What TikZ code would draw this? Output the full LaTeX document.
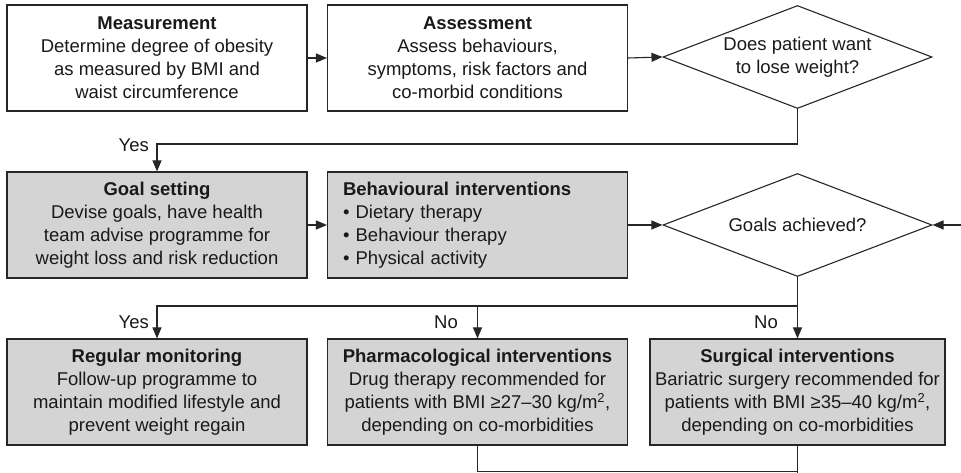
\documentclass[tikz,border=0pt]{standalone}
\usepackage{fontspec}
\setmainfont{Liberation Sans}
\usetikzlibrary{shapes.geometric,arrows.meta}

\begin{document}
\begin{tikzpicture}[x=1pt,y=1pt,
  every node/.style={font=\fontsize{18.5}{23}\selectfont, text=black!90},
  stepbox/.style={draw=black!85, line width=1.1pt, minimum width=300pt, minimum height=106pt, inner sep=0pt, align=center},
  graybox/.style={stepbox, fill=black!17},
  choice/.style={draw=black!85, line width=1.1pt, diamond, aspect=2.64, minimum width=269pt, minimum height=103pt, inner sep=0pt, align=center},
  link/.style={draw=black!85, line width=1.1pt},
  arrow/.style={link, -{Triangle[length=11pt,width=9pt]}},
  lbl/.style={anchor=east, inner sep=1pt}]
  \useasboundingbox (0,0) rectangle (961,473);

  % top row
  \node[stepbox] (meas) at (157,415) {\textbf{Measurement}\\Determine degree of obesity\\as measured by BMI and\\waist circumference};
  \node[stepbox] (assess) at (477.5,415) {\textbf{Assessment}\\Assess behaviours,\\symptoms, risk factors and\\co-morbid conditions};
  \node[choice] (dec1) at (797.5,416) {Does patient want\\to lose weight?};
  \draw[arrow] (meas.east) -- (assess.west);
  \draw[arrow] (assess.east) -- (dec1.west);

  % middle row
  \node[graybox] (goal) at (157,248) {\textbf{Goal setting}\\Devise goals, have health\\team advise programme for\\weight loss and risk reduction};
  \node[graybox, text width=269pt, align=left] (behav) at (477.5,248) {\textbf{Behavioural interventions}\\\textbullet\ Dietary therapy\\\textbullet\ Behaviour therapy\\\textbullet\ Physical activity};
  \node[choice] (dec2) at (797.5,248) {Goals achieved?};
  \coordinate (yesturn) at (157,329);
  \draw[arrow] (dec1.south) |- (yesturn) -- (goal.north);
  \node[lbl] (yes1) at (150,328) {Yes};
  \draw[arrow] (goal.east) -- (behav.west);
  \draw[arrow] (behav.east) -- (dec2.west);
  \coordinate (back) at (961,248);
  \draw[arrow] (back) -- (dec2.east);

  % bottom row
  \node[graybox] (monit) at (157,81) {\textbf{Regular monitoring}\\Follow-up programme to\\maintain modified lifestyle and\\prevent weight regain};
  \node[graybox] (pharm) at (477.5,81) {\textbf{Pharmacological interventions}\\Drug therapy recommended for\\patients with BMI ≥27–30 kg/m\textsuperscript{2},\\depending on co-morbidities};
  \node[graybox, minimum width=295pt] (surg) at (797.5,81) {\textbf{Surgical interventions}\\Bariatric surgery recommended for\\patients with BMI ≥35–40 kg/m\textsuperscript{2},\\depending on co-morbidities};
  \coordinate (split) at (797.5,167);
  \draw[link] (dec2.south) -- (split);
  \draw[arrow] (split) -| (monit.north);
  \draw[arrow] (split -| pharm.north) -- (pharm.north);
  \draw[arrow] (split) -- (surg.north);
  \node[lbl] (yes2) at (150,151) {Yes};
  \node[lbl] (no1) at (459,151) {No};
  \node[lbl] (no2) at (779,151) {No};

  % return lines
  \coordinate (join) at (797.5,1.2);
  \coordinate (ret) at (797.5,0);
  \draw[link] (pharm.south) |- (join);
  \draw[link] (surg.south) -- (ret);
\end{tikzpicture}
\end{document}
